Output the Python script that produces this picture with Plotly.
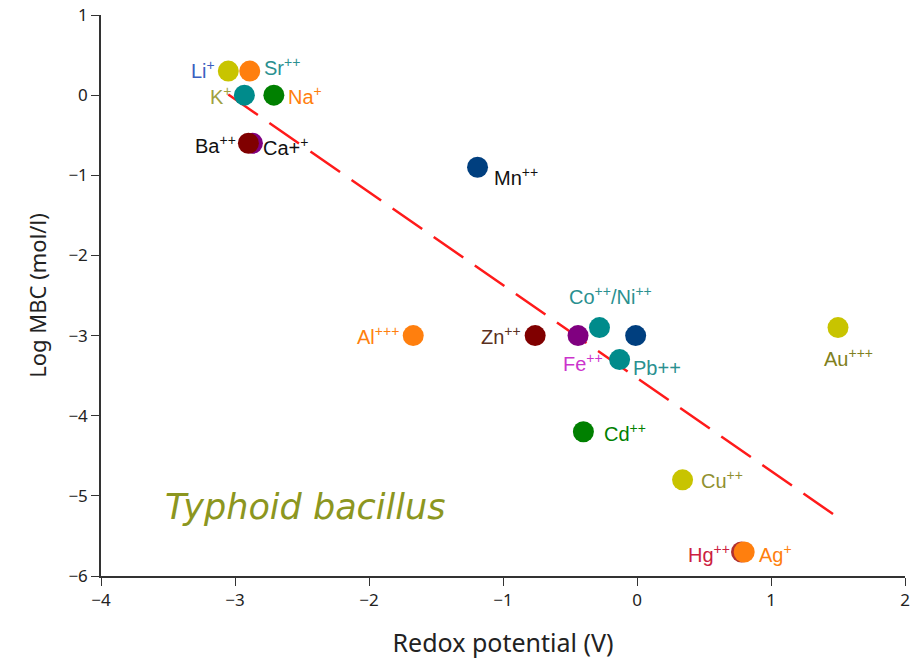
import plotly.graph_objects as go

# Data
ions = ["Li+", "Sr++", "K+", "Na+", "Ba++", "Ca++", "Mn++", "Al+++", "Zn++", "Fe++",
        "Co++", "Ni++", "Pb++", "Cd++", "Cu++", "Hg++", "Ag+", "Au+++"]
redox = [-3.05, -2.89, -2.93, -2.71, -2.87, -2.90, -1.19, -1.67, -0.76, -0.44,
         -0.28, -0.01, -0.13, -0.40, 0.34, 0.78, 0.80, 1.50]
log_mbc = [0.3, 0.3, 0.0, 0.0, -0.6, -0.6, -0.9, -3.0, -3.0, -3.0,
           -2.9, -3.0, -3.3, -4.2, -4.8, -5.7, -5.7, -2.9]
marker_colors = ["#c8c400", "#ff7f0e", "#008b8b", "#008000", "#800080", "#800000",
                 "#003f7f", "#ff7f0e", "#800000", "#800080", "#008b8b", "#003f7f",
                 "#008b8b", "#008000", "#c8c400", "#b03030", "#ff7f0e", "#c8c400"]

# Regression line endpoints (x range) and fit
fit_x = [-3.05, 1.50]
fit_slope = -1.16
fit_intercept = -3.53
fit_y = [fit_slope * v + fit_intercept for v in fit_x]

# Labels: (text, ion index, color, xanchor, xshift, yshift)
labels = [
    ("Li<sup>+</sup>", 0, "#3a5fbf", "right", -11, 2),
    ("Sr<sup>++</sup>", 1, "#2a9090", "left", 12, 5),
    ("K<sup>+</sup>", 2, "#a0a040", "right", -10, 0),
    ("Na<sup>+</sup>", 3, "#ff7f0e", "left", 12, 0),
    ("Ba<sup>++</sup>", 5, "#111111", "right", -10, -1),
    ("Ca+<sup>+</sup>", 4, "#111111", "left", 9, -3),
    ("Mn<sup>++</sup>", 6, "#111111", "left", 14, -9),
    ("Al<sup>+++</sup>", 7, "#ff7f0e", "right", -12, 0),
    ("Zn<sup>++</sup>", 8, "#5a3020", "right", -12, 0),
    ("Fe<sup>++</sup>", 9, "#cc33cc", "center", 5, -27),
    ("Co<sup>++</sup>/Ni<sup>++</sup>", 10, "#2a9090", "center", 11, 32),
    ("Pb++", 12, "#2a9090", "left", 11, -8),
    ("Cd<sup>++</sup>", 13, "#008000", "left", 19, -1),
    ("Cu<sup>++</sup>", 14, "#909030", "left", 16, 0),
    ("Hg<sup>++</sup>", 15, "#cc2040", "right", -10, -2),
    ("Ag<sup>+</sup>", 16, "#ff7f0e", "left", 13, -2),
    ("Au<sup>+++</sup>", 17, "#808020", "center", 10, -30),
]

fig = go.Figure()
fig.add_trace(go.Scatter(
    x=fit_x, y=fit_y, mode="lines",
    line=dict(color="#ff1a1a", width=2.5, dash="36px,14px"),
    showlegend=False, hoverinfo="skip"))
fig.add_trace(go.Scatter(
    x=redox, y=log_mbc, mode="markers",
    marker=dict(size=21, color=marker_colors, line=dict(width=0), opacity=1),
    text=ions, showlegend=False))

for txt, i, col, xa, xs, ys in labels:
    fig.add_annotation(x=redox[i], y=log_mbc[i], text=txt, showarrow=False,
                       xanchor=xa, yanchor="middle", xshift=xs, yshift=ys,
                       font=dict(family="Liberation Sans, Arial", size=20, color=col))

fig.add_annotation(x=-2.48, y=-5.14, text="<i>Typhoid bacillus</i>", showarrow=False,
                   xanchor="center", yanchor="middle",
                   font=dict(family="DejaVu Sans", size=35, color="#8c9620"))

axis_common = dict(showgrid=False, zeroline=False, showline=True, linecolor="#333333",
                   linewidth=1.5, ticks="outside", ticklen=8, tickcolor="#333333",
                   automargin=False,
                   tickfont=dict(family="Noto Sans", size=17, color="#222222"))
fig.update_xaxes(range=[-4, 2], dtick=1, tickformat="d",
                 title=dict(text="Redox potential (V)", font=dict(family="Noto Sans", size=25, color="#222222"), standoff=26),
                 **axis_common)
fig.update_yaxes(range=[-6, 1], dtick=1,
                 title=dict(text="Log MBC (mol/l)", font=dict(family="Noto Sans", size=22, color="#222222"), standoff=16),
                 **axis_common)
fig.update_layout(width=918, height=659, plot_bgcolor="white", paper_bgcolor="white",
                  margin=dict(l=101, r=13, t=15, b=83))
fig.write_html("out.html", config={"displayModeBar": False},
               post_script="document.body.style.margin='0';document.body.style.overflow='hidden';")
